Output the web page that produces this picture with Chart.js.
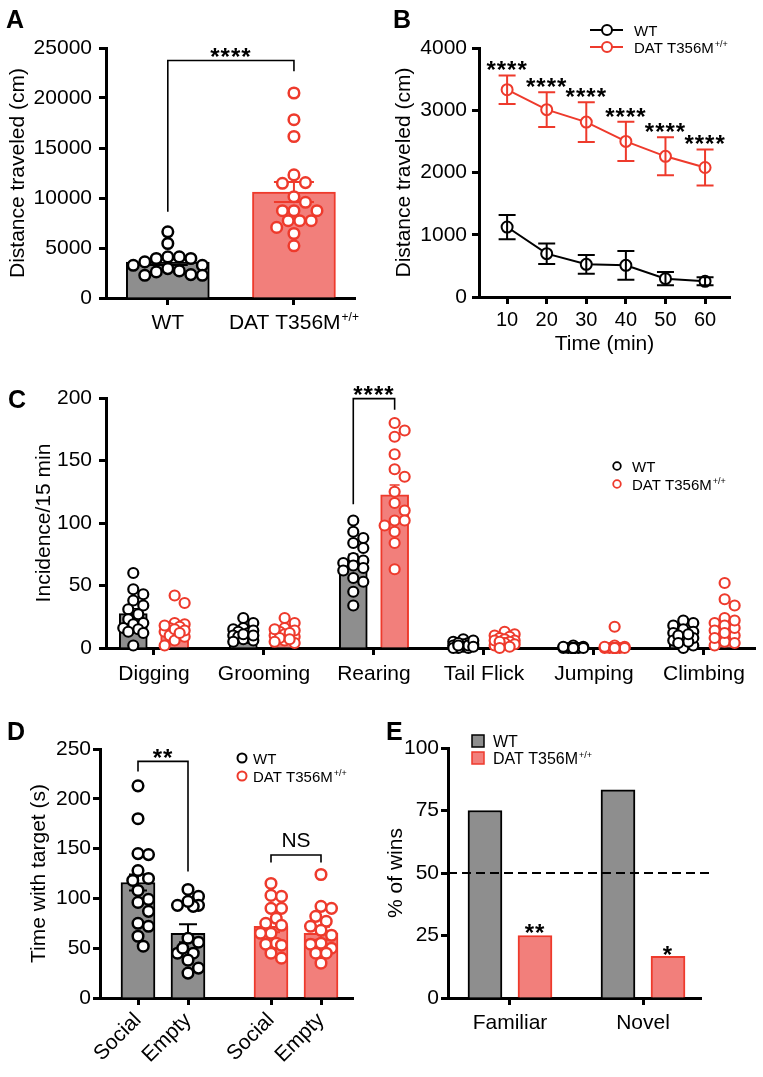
<!DOCTYPE html>
<html lang="en">
<head>
<meta charset="UTF-8">
<title>DAT T356M+/+ behaviour</title>
<script src="https://cdn.jsdelivr.net/npm/chart.js@4.4.1/dist/chart.umd.min.js"></script>
<style>
  body { margin: 0; background: #fff; }
  #fig { position: relative; width: 763px; height: 1077px; background: #fff; overflow: hidden; }
  #fig canvas { position: absolute; }
  .lbl { position: absolute; font: bold 25px 'Liberation Sans', Arial, sans-serif; line-height: 1; color: #000; }
</style>
</head>
<body>
<div id="fig">
  <canvas id="chartA" width="380" height="350" style="left:0;top:0"></canvas>
  <canvas id="chartB" width="383" height="360" style="left:380px;top:0"></canvas>
  <canvas id="chartC" width="763" height="340" style="left:0;top:360px"></canvas>
  <canvas id="chartD" width="380" height="377" style="left:0;top:700px"></canvas>
  <canvas id="chartE" width="383" height="377" style="left:380px;top:700px"></canvas>
  <div class="lbl" style="left:6px;top:7px">A</div>
  <div class="lbl" style="left:393px;top:7px">B</div>
  <div class="lbl" style="left:8px;top:387px">C</div>
  <div class="lbl" style="left:7px;top:719px">D</div>
  <div class="lbl" style="left:386px;top:719px">E</div>
</div>
<script>
// ---- data ----
const series = ['WT', 'DAT T356M+/+'];

// A: total distance
const groupsA = ['WT', 'DAT T356M+/+'];
const meanA = [3600, 10600];
const semA = [300, 1000];
const wtDistA = [6620, 5450, 4110, 3950, 4110, 3950, 3610, 3270, 3270, 2940, 2710, 2610, 2340, 2270, 2270];
const datDistA = [20500, 17830, 16150, 12310, 11540, 11470, 10130, 9570, 8730, 8730, 8730, 7730, 7730, 7730, 7060, 6450, 5220];

// B: distance per 10 min bin
const timeB = [10, 20, 30, 40, 50, 60];
const wtB = [1124, 696, 525, 509, 295, 252];
const wtSemB = [195, 165, 150, 230, 105, 65];
const datB = [3330, 3010, 2810, 2500, 2260, 2080];
const datSemB = [230, 280, 320, 315, 305, 290];

// C: behaviours
const behaviorsC = ['Digging', 'Grooming', 'Rearing', 'Tail Flick', 'Jumping', 'Climbing'];
const wtMeanC = [27.5, 12, 70, 3, 0.5, 10];
const datMeanC = [15.5, 11.5, 122.5, 6, 2, 19];
const wtSemC = [4, 1.5, 5, 0.8, 0.3, 2];
const datSemC = [3, 1.5, 8, 1, 1.2, 4];
const wtPtsC = [
  [60, 47, 43, 38, 34, 31, 27, 23, 20, 19, 16, 15, 13, 12, 2],
  [24, 20, 16, 15, 13, 12, 10, 9, 8, 7, 6, 11, 14, 5, 10],
  [102, 93, 88, 84, 80, 70, 68, 64, 62, 56, 53, 45, 34, 72, 66],
  [7, 5, 4, 3, 2, 1, 0, 0, 3, 2, 6, 1, 0, 4, 2],
  [2, 1, 0, 0, 0, 0, 0, 0, 0, 1, 0, 0, 0, 0, 0],
  [20, 22, 18, 13, 12, 9, 6, 2, 0, 15, 10, 8, 5, 11, 4]
];
const datPtsC = [
  [42, 36, 19, 20, 17, 16, 13, 10, 9, 6, 2, 15, 14, 12, 18],
  [24, 20, 16, 13, 11, 9, 6, 4, 14, 12, 10, 8, 7, 15, 5],
  [180, 174, 169, 155, 143, 137, 125, 116, 110, 102, 102, 98, 93, 84, 63],
  [13, 11, 10, 9, 8, 7, 6, 5, 4, 3, 2, 6, 5, 1, 0],
  [17, 2, 1, 0, 0, 0, 0, 0, 0, 0, 1, 0, 0, 0, 0],
  [52, 39, 34, 24, 20, 18, 14, 10, 5, 4, 2, 12, 16, 8, 22]
];

// D: social preference
const condD = ['Social', 'Empty', 'Social', 'Empty'];
const groupD = ['WT', 'WT', 'DAT', 'DAT'];
const meanD = [116, 65, 72, 65];
const semD = [8, 9, 6, 6.5];
const ptsD = [
  [213, 180, 145, 144, 128, 118, 120, 108, 96, 99, 87, 75, 72, 62, 52],
  [109, 102, 93, 93, 92, 60, 56, 45, 45, 38, 25, 30, 97, 50],
  [115, 103, 102, 90, 90, 80, 75, 73, 65, 65, 55, 54, 53, 40, 45],
  [124, 92, 90, 82, 77, 72, 68, 63, 55, 54, 50, 45, 45, 35]
];

// E: tube test
const testsE = ['Familiar', 'Novel'];
const wtWinsE = [75, 83.3];
const datWinsE = [25, 16.7];
const chanceE = 50;

// ---- style ----
const FONT = "'Liberation Sans', Arial, sans-serif";
const BLACK = '#000';
const GREY = '#8e8e8e';
const RED = '#ee3a2c';
const PINK = '#f27f7b';

Chart.defaults.font.family = FONT;
Chart.defaults.color = BLACK;
Chart.defaults.animation = false;
Chart.defaults.events = [];
Chart.defaults.plugins.legend.display = false;
Chart.defaults.plugins.tooltip.enabled = false;

const axisGrid = { drawOnChartArea: false, offset: false, tickLength: 7, tickWidth: 3, tickColor: BLACK };
const axisBorder = { color: BLACK, width: 3 };

function xAxis(o) {
  return {
    type: 'linear', min: o.min, max: o.max, offset: false,
    afterBuildTicks: s => { s.ticks = o.ticks.map(v => ({ value: v })); },
    afterFit: s => { s.height = o.height; s.paddingLeft = 0; s.paddingRight = 0; },
    grid: axisGrid, border: axisBorder,
    ticks: {
      display: !!o.labels, autoSkip: false,
      callback: (v, i) => (o.labels ? o.labels[i] : ''),
      font: { size: o.size || 21 }, padding: o.pad ?? 4,
      maxRotation: o.rot || 0, minRotation: o.rot || 0
    },
    title: o.title
      ? { display: true, text: o.title, font: { size: 21 }, padding: { top: 0, bottom: o.titlePad || 0 } }
      : { display: false }
  };
}

function yAxis(o) {
  return {
    type: 'linear', min: o.min, max: o.max,
    afterFit: s => { s.width = o.width; s.paddingTop = 0; s.paddingBottom = 0; },
    grid: axisGrid, border: axisBorder,
    ticks: { stepSize: o.step, font: { size: 21 }, padding: o.pad ?? 4, callback: v => String(v) },
    title: { display: true, text: o.title, font: { size: 21 }, padding: { top: o.titlePad, bottom: 0 } }
  };
}

// spread points sideways so that circles do not pile up (GraphPad-like scatter)
function swarm(values, center, o) {
  const placed = [];
  const out = new Array(values.length);
  const step = o.d * 0.5;
  const cands = [0];
  for (let k = 1; k * step <= o.half + 0.01; k++) cands.push(k * step, -k * step);
  const idx = values.map((v, i) => i).sort((a, b) => values[b] - values[a]);
  idx.forEach(i => {
    const py = values[i] * o.ypx;
    let best = 0, bestScore = -1;
    for (const c of cands) {
      let m = Infinity;
      for (const p of placed) m = Math.min(m, Math.hypot(p[0] - c, p[1] - py));
      if (m >= o.d) { best = c; break; }
      if (m > bestScore) { bestScore = m; best = c; }
    }
    placed.push([best, py]);
    out[i] = { x: center + best / o.xpx, y: values[i] };
  });
  return out;
}

function drawErr(chart, xs, means, sems, colors, cap, lw) {
  const { ctx, scales: { x, y } } = chart;
  ctx.save();
  ctx.lineWidth = lw;
  xs.forEach((xv, i) => {
    const px = x.getPixelForValue(xv);
    const lo = y.getPixelForValue(means[i] - sems[i]);
    const hi = y.getPixelForValue(means[i] + sems[i]);
    ctx.strokeStyle = Array.isArray(colors) ? colors[i] : colors;
    ctx.beginPath();
    ctx.moveTo(px, lo); ctx.lineTo(px, hi);
    ctx.moveTo(px - cap / 2, hi); ctx.lineTo(px + cap / 2, hi);
    ctx.moveTo(px - cap / 2, lo); ctx.lineTo(px + cap / 2, lo);
    ctx.stroke();
  });
  ctx.restore();
}

function drawMark(ctx, text, cx, cy, star) {
  ctx.save();
  ctx.fillStyle = BLACK;
  ctx.textAlign = 'center';
  if (star) {
    ctx.font = `bold 24px ${FONT}`;
    ctx.letterSpacing = '1px';
    ctx.textBaseline = 'alphabetic';
    ctx.fillText(text, cx, cy + 0.575 * 24);
  } else {
    ctx.font = `21px ${FONT}`;
    ctx.textBaseline = 'middle';
    ctx.fillText(text, cx, cy);
  }
  ctx.restore();
}

function bracket(chart, xa, xb, ya, yb, yTop, label, star = true, gap = 9) {
  const { ctx, scales: { x, y } } = chart;
  const X1 = x.getPixelForValue(xa), X2 = x.getPixelForValue(xb), T = y.getPixelForValue(yTop);
  ctx.save();
  ctx.strokeStyle = BLACK;
  ctx.lineWidth = 1.6;
  ctx.beginPath();
  ctx.moveTo(X1, y.getPixelForValue(ya));
  ctx.lineTo(X1, T);
  ctx.lineTo(X2, T);
  ctx.lineTo(X2, y.getPixelForValue(yb));
  ctx.stroke();
  ctx.restore();
  drawMark(ctx, label, (X1 + X2) / 2, T - gap, star);
}

// text with a trailing "+/+" drawn as superscript; y is the baseline
function supText(ctx, x, y, label, size, align) {
  const m = label.match(/^(.*?)(\+\/\+)?$/);
  const base = m[1], sup = m[2] || '';
  const supSize = Math.round(size * 0.58);
  ctx.save();
  ctx.fillStyle = BLACK;
  ctx.textBaseline = 'alphabetic';
  ctx.textAlign = 'left';
  ctx.font = `${size}px ${FONT}`;
  const wb = ctx.measureText(base).width;
  ctx.font = `${supSize}px ${FONT}`;
  const ws = sup ? ctx.measureText(sup).width + 1 : 0;
  const x0 = align === 'center' ? x - (wb + ws) / 2 : x;
  ctx.font = `${size}px ${FONT}`;
  ctx.fillText(base, x0, y);
  if (sup) {
    ctx.font = `${supSize}px ${FONT}`;
    ctx.fillText(sup, x0 + wb + 1, y - size * 0.4);
  }
  ctx.restore();
}

function circle(ctx, x, y, r, color, lw) {
  ctx.save();
  ctx.beginPath();
  ctx.arc(x, y, r, 0, Math.PI * 2);
  ctx.fillStyle = '#fff';
  ctx.fill();
  ctx.lineWidth = lw;
  ctx.strokeStyle = color;
  ctx.stroke();
  ctx.restore();
}

const dots = (data, color, r, bw) => ({
  type: 'scatter', data, pointRadius: r, pointBorderWidth: bw,
  pointBorderColor: color, pointBackgroundColor: '#fff', clip: false, order: 1
});

// ---- A ----
const posA = groupsA.map((g, i) => i);
const swA = { xpx: 126, ypx: 0.01, d: 11.5, half: 36 };
new Chart(document.getElementById('chartA'), {
  type: 'bar',
  data: {
    datasets: [
      { type: 'bar', data: posA.map((p, i) => ({ x: p, y: meanA[i] })), backgroundColor: [GREY, PINK],
        borderColor: [BLACK, RED], borderWidth: 2, barThickness: 83, grouped: false, order: 2 },
      dots(swarm(wtDistA, posA[0], swA), BLACK, 5.3, 2.5),
      dots(swarm(datDistA, posA[1], swA), RED, 5.3, 2.5)
    ]
  },
  options: {
    responsive: false,
    layout: { padding: { top: 48, right: 25, left: 0, bottom: 0 } },
    scales: {
      x: xAxis({ min: -0.49, max: 1.484, ticks: posA, labels: null, height: 52 }),
      y: yAxis({ min: 0, max: 25000, step: 5000, width: 106, title: 'Distance traveled (cm)', titlePad: 6, pad: 7 })
    }
  },
  plugins: [{
    id: 'annA',
    afterDatasetDraw(chart, args) {
      if (args.index === 0) drawErr(chart, posA, meanA, semA, [BLACK, RED], 40, 2);
    },
    afterDraw(chart) {
      const x = chart.scales.x;
      groupsA.forEach((g, i) => supText(chart.ctx, x.getPixelForValue(posA[i]), 329, g, 21, 'center'));
      bracket(chart, posA[0], posA[1], 8630, 22680, 23750, '****');
    }
  }]
});

// ---- B ----
new Chart(document.getElementById('chartB'), {
  type: 'line',
  data: {
    datasets: [
      { data: timeB.map((t, i) => ({ x: t, y: wtB[i] })), borderColor: BLACK, borderWidth: 2,
        pointRadius: 5.5, pointBorderWidth: 2, pointBorderColor: BLACK, pointBackgroundColor: '#fff' },
      { data: timeB.map((t, i) => ({ x: t, y: datB[i] })), borderColor: RED, borderWidth: 2,
        pointRadius: 5.5, pointBorderWidth: 2, pointBorderColor: RED, pointBackgroundColor: '#fff' }
    ]
  },
  options: {
    responsive: false,
    layout: { padding: { top: 48, right: 33, left: 0, bottom: 0 } },
    scales: {
      x: xAxis({ min: 2.9, max: 66.3, ticks: timeB, labels: timeB.map(String), height: 63, size: 20, pad: 4,
                 title: 'Time (min)', titlePad: 3 }),
      y: yAxis({ min: 0, max: 4000, step: 1000, width: 99, title: 'Distance traveled (cm)', titlePad: 12, pad: 5 })
    }
  },
  plugins: [{
    id: 'annB',
    afterDatasetsDraw(chart) {
      drawErr(chart, timeB, wtB, wtSemB, BLACK, 17, 2);
      drawErr(chart, timeB, datB, datSemB, RED, 17, 2);
      const { x, y } = chart.scales;
      timeB.forEach((t, i) => drawMark(chart.ctx, '****', x.getPixelForValue(t), y.getPixelForValue(datB[i] + datSemB[i]) - 11, true));
      const ctx = chart.ctx;
      [BLACK, RED].forEach((c, i) => {
        const cy = 30 + i * 17;
        ctx.save();
        ctx.strokeStyle = c; ctx.lineWidth = 2;
        ctx.beginPath(); ctx.moveTo(210, cy); ctx.lineTo(243, cy); ctx.stroke();
        ctx.restore();
        circle(ctx, 227, cy, 5, c, 2);
        supText(ctx, 254, cy + 5.5, series[i], 15, 'left');
      });
    }
  }]
});

// ---- C ----
const swC = { xpx: 110, ypx: 1.25, d: 10, half: 12 };
const posWtC = behaviorsC.map((b, i) => i - 0.188);
const posDatC = behaviorsC.map((b, i) => i + 0.188);
new Chart(document.getElementById('chartC'), {
  type: 'bar',
  data: {
    datasets: [
      { type: 'bar', data: posWtC.map((p, i) => ({ x: p, y: wtMeanC[i] })), backgroundColor: GREY,
        borderColor: BLACK, borderWidth: 2, barThickness: 28, grouped: false, order: 2 },
      { type: 'bar', data: posDatC.map((p, i) => ({ x: p, y: datMeanC[i] })), backgroundColor: PINK,
        borderColor: RED, borderWidth: 2, barThickness: 28, grouped: false, order: 2 },
      dots(behaviorsC.flatMap((b, i) => swarm(wtPtsC[i], posWtC[i], swC)), BLACK, 5, 2.2),
      dots(behaviorsC.flatMap((b, i) => swarm(datPtsC[i], posDatC[i], swC)), RED, 5, 2.2)
    ]
  },
  options: {
    responsive: false,
    layout: { padding: { top: 38, right: 8, left: 0, bottom: 0 } },
    scales: {
      x: xAxis({ min: -0.436, max: 5.464, ticks: behaviorsC.map((b, i) => i), labels: behaviorsC, height: 52, pad: 7 }),
      y: yAxis({ min: 0, max: 200, step: 50, width: 106, title: 'Incidence/15 min', titlePad: 32, pad: 7 })
    }
  },
  plugins: [{
    id: 'annC',
    afterDatasetDraw(chart, args) {
      if (args.index === 0) drawErr(chart, posWtC, wtMeanC, wtSemC, BLACK, 10, 1.5);
      if (args.index === 1) drawErr(chart, posDatC, datMeanC, datSemC, RED, 10, 1.5);
    },
    afterDraw(chart) {
      bracket(chart, posWtC[2], posDatC[2], 115, 190.6, 199.5, '****');
      const ctx = chart.ctx;
      [BLACK, RED].forEach((c, i) => {
        const cy = 106 + i * 18;
        circle(ctx, 617, cy, 3.8, c, 1.8);
        supText(ctx, 632, cy + 5.5, series[i], 15, 'left');
      });
    }
  }]
});

// ---- D ----
const posD = groupD.map((g, i) => i + 1 + (g === 'DAT' ? 0.66 : 0));
const swD = { xpx: 50, ypx: 1.0, d: 10.5, half: 12 };
const colD = groupD.map(g => (g === 'WT' ? BLACK : RED));
new Chart(document.getElementById('chartD'), {
  type: 'bar',
  data: {
    datasets: [
      { type: 'bar', data: posD.map((p, i) => ({ x: p, y: meanD[i] })),
        backgroundColor: groupD.map(g => (g === 'WT' ? GREY : PINK)), borderColor: colD,
        borderWidth: 2, barThickness: 34, grouped: false, order: 2 },
      dots(posD.flatMap((p, i) => (groupD[i] === 'WT' ? swarm(ptsD[i], p, swD) : [])), BLACK, 5.3, 2.5),
      dots(posD.flatMap((p, i) => (groupD[i] === 'DAT' ? swarm(ptsD[i], p, swD) : [])), RED, 5.3, 2.5)
    ]
  },
  options: {
    responsive: false,
    layout: { padding: { top: 49, right: 27, left: 0, bottom: 0 } },
    scales: {
      x: xAxis({ min: 0.24, max: 5.3, ticks: posD, labels: condD, height: 79, rot: 45, pad: 3 }),
      y: yAxis({ min: 0, max: 250, step: 50, width: 100, title: 'Time with target (s)', titlePad: 27, pad: 2 })
    }
  },
  plugins: [{
    id: 'annD',
    afterDatasetDraw(chart, args) {
      if (args.index === 0) drawErr(chart, posD, meanD, semD, colD, 18, 2);
    },
    afterDraw(chart) {
      bracket(chart, posD[0], posD[1], 227.5, 127, 237.6, '**');
      bracket(chart, posD[2], posD[3], 136, 136, 143.6, 'NS', false, 14);
      const ctx = chart.ctx;
      [BLACK, RED].forEach((c, i) => {
        const cy = 58 + i * 18;
        circle(ctx, 242, cy, 4.5, c, 2);
        supText(ctx, 253, cy + 5.5, series[i], 15, 'left');
      });
    }
  }]
});

// ---- E ----
const posWtE = testsE.map((t, i) => i - 0.188);
const posDatE = testsE.map((t, i) => i + 0.188);
new Chart(document.getElementById('chartE'), {
  type: 'bar',
  data: {
    datasets: [
      { type: 'bar', data: posWtE.map((p, i) => ({ x: p, y: wtWinsE[i] })), backgroundColor: GREY,
        borderColor: BLACK, borderWidth: 2, barThickness: 34, grouped: false },
      { type: 'bar', data: posDatE.map((p, i) => ({ x: p, y: datWinsE[i] })), backgroundColor: PINK,
        borderColor: RED, borderWidth: 2, barThickness: 34, grouped: false }
    ]
  },
  options: {
    responsive: false,
    layout: { padding: { top: 48, right: 62, left: 0, bottom: 0 } },
    scales: {
      x: xAxis({ min: -0.466, max: 1.436, ticks: testsE.map((t, i) => i), labels: testsE, height: 79, pad: 6 }),
      y: yAxis({ min: 0, max: 100, step: 25, width: 68, title: '% of wins', titlePad: 4, pad: 2 })
    }
  },
  plugins: [{
    id: 'annE',
    afterDatasetsDraw(chart) {
      const { ctx, chartArea, scales: { x, y } } = chart;
      const yc = y.getPixelForValue(chanceE);
      ctx.save();
      ctx.strokeStyle = BLACK; ctx.lineWidth = 2; ctx.setLineDash([9, 5]);
      ctx.beginPath(); ctx.moveTo(chartArea.left, yc); ctx.lineTo(chartArea.right + 12, yc); ctx.stroke();
      ctx.restore();
      drawMark(ctx, '**', x.getPixelForValue(posDatE[0]), y.getPixelForValue(datWinsE[0]) - 8, true);
      drawMark(ctx, '*', x.getPixelForValue(posDatE[1]), y.getPixelForValue(datWinsE[1]) - 7, true);
      [[GREY, BLACK], [PINK, RED]].forEach((c, i) => {
        const cy = 41 + i * 17;
        ctx.save();
        ctx.fillStyle = c[0]; ctx.strokeStyle = c[1]; ctx.lineWidth = 1.5;
        ctx.fillRect(92, cy - 6, 12, 12); ctx.strokeRect(92, cy - 6, 12, 12);
        ctx.restore();
        supText(ctx, 113, cy + 6, series[i], 16, 'left');
      });
    }
  }]
});
</script>
</body>
</html>
